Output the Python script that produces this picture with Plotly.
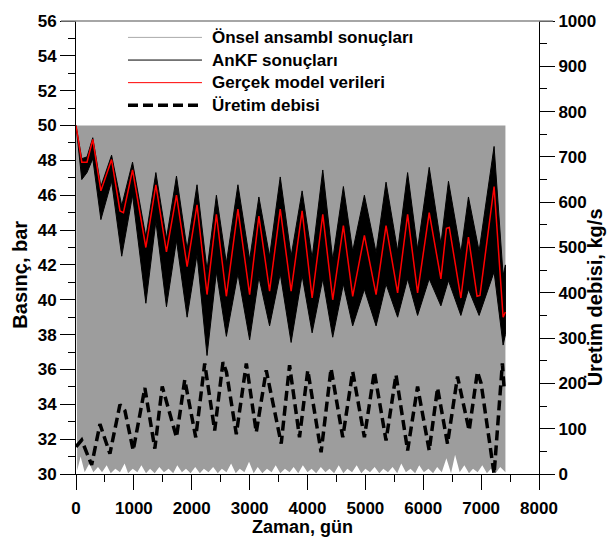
import plotly.graph_objects as go

# ---------------- data ----------------
# Prior ensemble ("Önsel ansambl") – envelope of the grey line cloud, bar
prior_top_days = [0, 7420]
prior_top_bar = [50.0, 50.0]
prior_low_days = [0, 20, 80, 150, 230, 300, 380, 450, 530, 600, 680, 760, 840, 900,
                  980, 1060, 1130, 1210, 1280, 1360, 1440, 1520, 1600, 1680, 1750, 1830,
                  1900, 1980, 2060, 2140, 2210, 2290, 2370, 2450, 2520, 2600, 2680, 2760,
                  2830, 2910, 2990, 3070, 3140, 3220, 3300, 3380, 3450, 3530, 3610, 3690,
                  3760, 3840, 3920, 4000, 4070, 4150, 4230, 4310, 4380, 4460, 4540, 4620,
                  4690, 4770, 4850, 4930, 5000, 5080, 5160, 5240, 5310, 5390, 5470, 5550,
                  5620, 5700, 5780, 5860, 5930, 6010, 6090, 6170, 6240, 6320, 6400, 6480,
                  6550, 6630, 6710, 6790, 6860, 6940, 7020, 7100, 7170, 7250, 7330, 7420]
prior_low_bar = [50.0, 30.2, 31.0, 30.1, 30.6, 30.1, 30.4, 30.1, 30.5, 30.05, 30.3, 30.1,
                 30.6, 30.05, 30.3, 30.1, 30.5, 30.05, 30.3, 30.05, 30.4, 30.1, 30.3, 30.05,
                 30.5, 30.1, 30.3, 30.05, 30.4, 30.05, 30.3, 30.1, 30.4, 30.05, 30.3, 30.1,
                 30.6, 30.05, 30.3, 30.1, 30.7, 30.05, 30.4, 30.05, 30.3, 30.1, 30.5, 30.05,
                 30.3, 30.1, 30.4, 30.05, 30.5, 30.1, 30.3, 30.05, 30.4, 30.1, 30.3, 30.05,
                 30.5, 30.05, 30.3, 30.1, 30.5, 30.05, 30.3, 30.1, 30.4, 30.05, 30.3, 30.1,
                 30.4, 30.05, 30.6, 30.1, 30.3, 30.05, 30.5, 30.1, 30.3, 30.05, 30.4, 30.1,
                 30.9, 30.05, 31.1, 30.1, 30.5, 30.05, 30.3, 30.1, 30.5, 30.05, 30.3, 30.05,
                 30.4, 30.1]

# AnKF ensemble – upper / lower envelope of the black line bundle, bar
ankf_days = [0, 100, 190, 290, 430, 615, 790, 977, 1207, 1380, 1563, 1736, 1920, 2091,
             2264, 2426, 2598, 2798, 3000, 3160, 3345, 3529, 3717, 3907, 4080, 4264,
             4436, 4620, 4781, 4983, 5185, 5357, 5557, 5730, 5902, 6103, 6305, 6436,
             6650, 6781, 6965, 7224, 7380, 7420]
ankf_hi = [50.0, 48.1, 48.2, 49.3, 46.5, 48.3, 45.4, 47.9, 43.6, 47.3, 43.5, 47.1, 42.9,
           46.6, 41.7, 46.0, 42.1, 46.6, 42.3, 45.9, 42.5, 47.05, 42.5, 46.25, 42.4,
           47.45, 42.3, 46.5, 42.8, 46.0, 42.7, 46.75, 42.8, 47.3, 42.9, 47.6, 43.2,
           46.8, 42.7, 45.9, 42.8, 48.8, 41.4, 42.0]
ankf_lo = [50.0, 46.9, 47.3, 48.1, 44.6, 46.8, 42.5, 46.0, 39.8, 44.5, 39.6, 43.4, 39.0,
           42.6, 36.8, 41.6, 37.9, 41.5, 37.7, 41.3, 38.5, 41.5, 37.55, 41.4, 38.1,
           41.2, 37.85, 40.9, 38.5, 40.6, 38.5, 40.9, 39.0, 41.2, 39.1, 41.2, 39.65,
           41.1, 39.1, 40.6, 39.1, 41.6, 37.4, 38.0]

# True model ("Gerçek model verileri"), bar
true_days = [0, 100, 190, 290, 430, 615, 760, 820, 977, 1207, 1380, 1563, 1736, 1920,
             2091, 2264, 2426, 2598, 2798, 3000, 3160, 3345, 3529, 3717, 3907, 4080,
             4264, 4436, 4620, 4781, 4983, 5185, 5357, 5557, 5730, 5902, 6103, 6305,
             6400, 6450, 6650, 6781, 6930, 6980, 7224, 7380, 7420]
true_bar = [50.0, 47.9, 47.9, 49.2, 46.25, 48.05, 45.1, 45.0, 47.45, 43.0, 46.6, 42.75,
            46.0, 41.9, 45.45, 40.3, 44.9, 40.2, 45.2, 40.3, 44.8, 40.5, 45.2, 40.5,
            45.1, 40.1, 44.9, 40.0, 44.25, 40.2, 43.7, 40.3, 44.25, 40.4, 44.9, 40.4,
            45.0, 41.2, 44.1, 44.15, 40.1, 43.6, 40.2, 40.25, 46.5, 39.0, 39.3]

# Production rate ("Üretim debisi"), kg/s
rate_days = [0, 98, 270, 414, 586, 759, 845, 988, 1190, 1362, 1490, 1736, 1879, 2069,
             2224, 2396, 2540, 2600, 2770, 2943, 3115, 3287, 3546, 3690, 3862, 4005,
             4235, 4407, 4609, 4781, 4983, 5155, 5357, 5529, 5730, 5902, 6103, 6247,
             6419, 6592, 6793, 6936, 7000, 7224, 7367, 7397]
rate_kgs = [60, 75, 20, 110, 45, 153, 140, 52, 190, 56, 193, 81, 208, 81, 244, 96, 247,
            225, 88, 244, 92, 229, 67, 240, 81, 229, 48, 233, 81, 226, 81, 226, 74, 219,
            52, 193, 52, 190, 67, 215, 96, 226, 200, 0, 244, 190]

legend_labels = ["Önsel ansambl sonuçları", "AnKF sonuçları",
                 "Gerçek model verileri", "Üretim debisi"]
x_title = "Zaman, gün"
y_title = "Basınç, bar"
y2_title = "Üretim debisi, kg/s"

# ---------------- figure ----------------
FONT = "Liberation Sans, Arial, sans-serif"
fig = go.Figure()

fig.add_trace(go.Scatter(
    x=prior_top_days + prior_low_days[::-1],
    y=prior_top_bar + prior_low_bar[::-1],
    fill="toself", fillcolor="#9d9d9d", mode="lines",
    line=dict(width=0, color="#9d9d9d"), hoverinfo="skip", showlegend=False))

fig.add_trace(go.Scatter(
    x=ankf_days + ankf_days[::-1],
    y=ankf_hi + ankf_lo[::-1],
    fill="toself", fillcolor="black", mode="lines",
    line=dict(width=1, color="black"), hoverinfo="skip", showlegend=False))

fig.add_trace(go.Scatter(
    x=true_days, y=true_bar, mode="lines",
    line=dict(color="#ff0000", width=1.5), showlegend=False))

fig.add_trace(go.Scatter(
    x=rate_days, y=rate_kgs, mode="lines", yaxis="y2",
    line=dict(color="black", width=3.5, dash="10px,5px"), showlegend=False))

tickfont = dict(family=FONT, size=17, color="black", weight="bold")
common = dict(ticks="outside", ticklen=15, tickwidth=1, tickcolor="black",
              showline=True, linecolor="black", linewidth=1, showgrid=False,
              zeroline=False, tickfont=tickfont)

fig.update_layout(
    width=610, height=537,
    margin=dict(l=76, r=71, t=13, b=63),
    paper_bgcolor="white", plot_bgcolor="white",
    showlegend=False,
    xaxis=dict(range=[0, 8000], tickmode="linear", tick0=0, dtick=1000,
               ticklabelstandoff=4,
               minor=dict(dtick=500, ticklen=7, ticks="outside", tickcolor="black"),
               **common),
    yaxis=dict(range=[30, 56], tickmode="linear", tick0=30, dtick=2,
               minor=dict(dtick=1, ticklen=7, ticks="outside", tickcolor="black"),
               **common),
    yaxis2=dict(range=[0, 1000], tickmode="linear", tick0=0, dtick=100,
                overlaying="y", side="right",
                minor=dict(dtick=50, ticklen=7, ticks="outside", tickcolor="black"),
                **common),
)

# top frame line
fig.add_shape(type="line", xref="paper", yref="paper", x0=-0.0324, x1=1.030,
              y0=1, y1=1, line=dict(color="#888888", width=1.5))

# axis titles
xfont = dict(family=FONT, size=18, color="black", weight="bold")
yfont = dict(family=FONT, size=20, color="black", weight="bold")
fig.add_annotation(text=x_title, xref="paper", yref="paper", x=0.49, y=0,
                   yshift=-53, showarrow=False, font=xfont, yanchor="middle")
fig.add_annotation(text=y_title, xref="paper", yref="paper", x=0, y=0.44,
                   xshift=-56, textangle=-90, showarrow=False, font=yfont,
                   xanchor="center", yanchor="middle")
fig.add_annotation(text=y2_title, xref="paper", yref="paper", x=1, y=0.39,
                   xshift=56, textangle=-90, showarrow=False, font=yfont,
                   xanchor="center", yanchor="middle")

# hand-drawn legend
lfont = dict(family=FONT, size=17, color="black", weight="bold")
leg_styles = [dict(color="#aaaaaa", width=1), dict(color="black", width=1),
              dict(color="#ff0000", width=1), dict(color="black", width=3.5, dash="10px,5px")]
leg_y = [0.9638, 0.9138, 0.8639, 0.8140]
for lab, st, yy in zip(legend_labels, leg_styles, leg_y):
    fig.add_shape(type="line", xref="paper", yref="paper", x0=0.1123, x1=0.2721,
                  y0=yy, y1=yy, line=st)
    fig.add_annotation(text=lab, xref="paper", yref="paper", x=0.2894, y=yy,
                       xanchor="left", yanchor="middle", showarrow=False, font=lfont)

fig.write_html("out.html")
